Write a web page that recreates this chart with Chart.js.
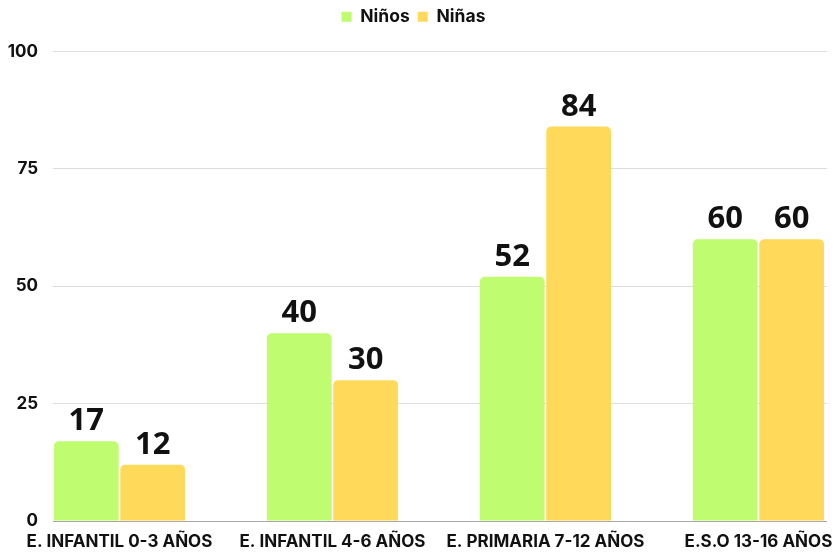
<!DOCTYPE html>
<html>
<head>
<meta charset="utf-8">
<script src="https://cdn.jsdelivr.net/npm/chart.js@4"></script>
<style>
  html, body { margin: 0; padding: 0; background: #ffffff; }
  #wrap { width: 834px; height: 552px; }
</style>
</head>
<body>
<div id="wrap"><canvas id="chart" width="834" height="552"></canvas></div>
<script>
const categories = ["E. INFANTIL 0-3 AÑOS", "E. INFANTIL 4-6 AÑOS", "E. PRIMARIA 7-12 AÑOS", "E.S.O 13-16 AÑOS"];
const ninos = [17, 40, 52, 60];
const ninas = [12, 30, 84, 60];
const seriesNames = ["Niños", "Niñas"];
const yTicks = [0, 25, 50, 75, 100];

//turn the plain arrays into points on the linear x axis
const toPoints = (vals) => vals.map((v, i) => ({ x: i, y: v }));

//value labels above each bar
const barValues = {
  id: "barValues",
  afterDatasetsDraw(chart) {
    const ctx = chart.ctx;
    ctx.save();
    ctx.font = "bold 31px 'Open Sans'";
    ctx.fillStyle = "#111111";
    ctx.textAlign = "center";
    ctx.textBaseline = "alphabetic";
    chart.data.datasets.forEach((ds, d) => {
      chart.getDatasetMeta(d).data.forEach((bar, i) => {
        ctx.fillText(String(ds.data[i].y), bar.x, bar.y - 11);
      });
    });
    ctx.restore();
  }
};

//extra room under the legend
const legendGap = {
  id: "legendGap",
  beforeInit(chart) {
    const fit = chart.legend.fit;
    chart.legend.fit = function () {
      fit.call(this);
      this.height += 16;
    };
  }
};

const myChart = new Chart(document.getElementById("chart"), {
  type: "bar",
  plugins: [legendGap, barValues],
  data: {
    datasets: [
      {
        label: seriesNames[0],
        data: toPoints(ninos),
        backgroundColor: "#c0fc6f",
        borderRadius: 5,
        categoryPercentage: 0.624,
        barPercentage: 0.975
      },
      {
        label: seriesNames[1],
        data: toPoints(ninas),
        backgroundColor: "#ffda5a",
        borderRadius: 5,
        categoryPercentage: 0.624,
        barPercentage: 0.975
      }
    ]
  },
  options: {
    responsive: false,
    animation: false,
    layout: { padding: { top: 0, right: 7, left: 0, bottom: 0 } },
    plugins: {
      tooltip: { enabled: false },
      legend: {
        position: "top",
        labels: {
          boxWidth: 10,
          boxHeight: 10,
          padding: 8,
          color: "#111111",
          font: { family: "Inter", size: 17.5, weight: "bold" }
        }
      }
    },
    scales: {
      x: {
        type: "linear",
        offset: false,
        min: -0.312,
        max: 3.322,
        grid: { display: false, offset: false },
        border: { display: false },
        afterFit: (scale) => {
          scale.height = 31;
          scale.paddingLeft = 0;
          scale.paddingRight = 0;
        },
        ticks: {
          stepSize: 1,
          includeBounds: false,
          autoSkip: false,
          maxRotation: 0,
          padding: 3,
          color: "#111111",
          font: { family: "Inter", size: 17, weight: "bold" },
          callback: (v) => categories[v]
        }
      },
      y: {
        min: 0,
        max: 100,
        afterFit: (scale) => { scale.width = 53; },
        afterBuildTicks: (scale) => { scale.ticks = yTicks.map((v) => ({ value: v })); },
        border: { display: false },
        grid: {
          drawTicks: false,
          color: (c) => (c.tick && c.tick.value === 0 ? "#a8a8a8" : "#dddddd")
        },
        ticks: {
          padding: 15,
          color: "#111111",
          font: { family: "Inter", size: 17, weight: "bold" }
        }
      }
    }
  }
});
</script>
</body>
</html>
